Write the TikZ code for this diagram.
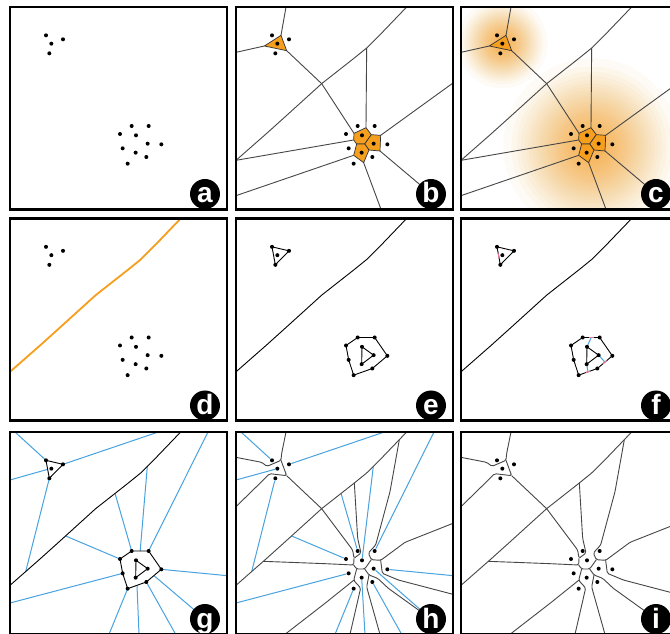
\documentclass[tikz,border=0pt]{standalone}
\usepackage{fontspec}
\setsansfont{Liberation Sans}
\definecolor{orgC}{RGB}{246,158,30}
\definecolor{bluC}{RGB}{72,163,224}
\definecolor{pnkC}{RGB}{240,120,150}
\definecolor{vgray}{RGB}{70,70,70}
\tikzset{
 frm/.style={line width=2.7pt, black},
 vor/.style={line width=0.9pt, vgray, line join=round},
 vfine/.style={line width=0.9pt, vgray, line join=round, line cap=round, rounded corners=1.5pt},
 hul/.style={line width=0.9pt, black, line join=round},
 blu/.style={line width=1pt, bluC},
 pnk/.style={line width=1.1pt, pnkC},
 cell/.style={fill=orgC, draw=black!80, line width=0.7pt, line join=round},
 dotc/.style={fill=black},
 glow/.style={fill=orgC, fill opacity=0.045},
 lab/.style={text=white, font=\sffamily\bfseries\fontsize{28}{28}\selectfont, anchor=base, inner sep=0pt},
}
\newcommand\mypts{%
\coordinate (P1) at (141,106);\coordinate (P2) at (157,131);\coordinate (P3) at (192,118);\coordinate (P4) at (151,160);
\coordinate (A) at (398,378);\coordinate (B) at (449,378);\coordinate (C) at (363,402);\coordinate (D) at (411,406);
\coordinate (E) at (446,431);\coordinate (F) at (487,433);\coordinate (G) at (371,445);\coordinate (H) at (410,458);
\coordinate (I) at (442,471);\coordinate (J) at (386,491);
\coordinate (K1) at (33,481);\coordinate (K2) at (123,402);\coordinate (K3) at (183,348);\coordinate (K4) at (290,251);
\coordinate (K5) at (388,174);\coordinate (K6) at (425,144);\coordinate (K7) at (473,96);\coordinate (K8) at (545,21);
\coordinate (T1) at (118,138);\coordinate (T2) at (168,106);\coordinate (T3) at (185,152);
\coordinate (T1a) at (126,124);\coordinate (T1b) at (134,146);
\coordinate (V1) at (423,383);\coordinate (V2) at (387,400);\coordinate (V3) at (439,404);\coordinate (V4) at (467,406);
\coordinate (V5) at (386,420);\coordinate (V6) at (395,432);\coordinate (V7) at (419,432);\coordinate (V8) at (432,450);
\coordinate (V9) at (465,453);\coordinate (V10) at (386,466);\coordinate (V11) at (416,488);
\coordinate (V1a) at (408,384);\coordinate (V1b) at (430,384);\coordinate (V9a) at (472,445);\coordinate (V9b) at (458,460);
\coordinate (V11a) at (407,489);\coordinate (V11b) at (425,486);
}
\newcommand\mydots{\foreach \q in {P1,P2,P3,P4,A,B,C,D,E,F,G,H,I,J}{\fill[dotc] (\q) circle (6);}}
\newcommand\mylab[2]{\fill[black] (618,582) circle (45); \node[lab] (#1) at (618,609) {#2};}
\newcommand\mycurve[1]{\draw[#1] (K1) -- (K2) -- (K3) -- (K4) -- (K5) -- (K6) -- (K7) -- (K8);}
\newcommand\myframe{\draw[frm] (33,21) rectangle (684,628);}
\newcommand\myclip{\clip (33,21) rectangle (684,628);}
\newcommand\myvorb{%
 \mycurve{vor}
 \draw[vor] (V1) -- (K6);
 \draw[vor] (V4) -- (684,249);
 \draw[vor] (V9) -- (618,582);
 \draw[vor] (V11) -- (468,628);
 \draw[vor] (V10) -- (33,587);
 \draw[vor] (V5) -- (K1);
 \draw[vor] (V2) -- (K4) -- (T3);
 \draw[vor] (T2) -- (183,21);
 \draw[vor] (T1) -- (33,157);
 \filldraw[cell] (T1) -- (T2) -- (T3) -- cycle;
 \filldraw[cell] (V1) -- (V3) -- (V7) -- (V6) -- (V5) -- (V2) -- cycle;
 \filldraw[cell] (V3) -- (V4) -- (V9) -- (V8) -- (V7) -- cycle;
 \filldraw[cell] (V6) -- (V7) -- (V8) -- (V11) -- (V10) -- cycle;
}
\newcommand\myhulls{%
 \draw[hul] (P1) -- (P3) -- (P4) -- cycle;
 \draw[hul] (A) -- (B) -- (F) -- (I) -- (J) -- (G) -- (C) -- cycle;
 \draw[hul] (D) -- (E) -- (H) -- cycle;
}
\newcommand\myvorfine{%
 \mycurve{vfine}
 \draw[vfine] (183,21) -- (170,85) -- (T2) -- (T1a) -- (110,112) -- (33,97);
 \draw[vfine] (T2) -- (T3) -- (T1b) -- (120,160) -- (33,245);
 \draw[vfine] (T3) -- (K4) -- (383,375) -- (V2) -- (V1a) -- (398,340) -- (K5);
 \draw[vfine] (523,44) -- (495,200) -- (452,360) -- (V1b) -- (V3) -- (V4) -- (540,352) -- (684,295);
 \draw[vfine] (V2) -- (V5) -- (300,416) -- (115,409);
 \draw[vfine] (V5) -- (V6) -- (V7) -- (V3);
 \draw[vfine] (V7) -- (V8) -- (V9b) -- (490,490) -- (618,582);
 \draw[vfine] (V4) -- (V9a) -- (520,465) -- (684,508);
 \draw[vfine] (V8) -- (V11b) -- (465,628);
 \draw[vfine] (V6) -- (V10) -- (V11a) -- (375,628);
 \draw[vfine] (V10) -- (300,535) -- (180,628);
}
\begin{document}
\begin{tikzpicture}[x=1pt,y=-1pt]
\useasboundingbox (0,0) rectangle (670,634);
\fill[white] (0,0) rectangle (670,634);
% a
\begin{scope}[shift={(-1,0)}, scale=0.33333]
 \mypts
 \begin{scope}\myclip \mydots \mylab{la}{a}\end{scope}
 \myframe
\end{scope}
% b
\begin{scope}[shift={(225,0)}, scale=0.33333]
 \mypts
 \begin{scope}\myclip \myvorb \mydots \mylab{lb}{b}\end{scope}
 \myframe
\end{scope}
% c
\begin{scope}[shift={(450,0)}, scale=0.33333]
 \mypts
 \begin{scope}\myclip
  \foreach \k in {0,...,29}{\fill[glow] (157,130) circle ({135*(1-(\k/30)^0.7)});}
  \foreach \k in {0,...,29}{\fill[glow] (425,440) circle ({265*(1-(\k/30)^0.7)});}
  \myvorb \mydots \mylab{lc}{c}\end{scope}
 \myframe
\end{scope}
% d
\begin{scope}[shift={(-1,211.5)}, scale=0.33333]
 \mypts
 \begin{scope}\myclip \mycurve{line width=1.8pt, orgC, line join=round} \mydots \mylab{ld}{d}\end{scope}
 \myframe
\end{scope}
% e
\begin{scope}[shift={(225,211.5)}, scale=0.33333]
 \mypts
 \begin{scope}\myclip \mycurve{hul} \myhulls \mydots \mylab{le}{e}\end{scope}
 \myframe
\end{scope}
% f
\begin{scope}[shift={(450,211.5)}, scale=0.33333]
 \mypts
 \begin{scope}\myclip \mycurve{hul} \myhulls
  \draw[blu] (D) -- (423.5,378);
  \draw[blu] (E) -- (465,452);
  \draw[blu] (H) -- (414,481);
  \draw[pnk] (416,378) -- (431,378);
  \draw[pnk] (470.3,447.5) -- (459.7,456.5);
  \draw[pnk] (420.6,478.6) -- (407.4,483.4);
  \draw[pnk] (144.7,126.1) -- (147.3,139.9);
  \mydots \mylab{lf}{f}\end{scope}
 \myframe
\end{scope}
% g
\begin{scope}[shift={(-1,425)}, scale=0.33333]
 \mypts
 \begin{scope}\myclip
  \draw[blu] (48,21) -- (P1);
  \draw[blu] (33,165) -- (146,133);
  \draw[blu] (478,21) -- (P3);
  \draw[blu] (80,440) -- (P4);
  \draw[blu] (348,205) -- (A);
  \draw[blu] (445,124) -- (423.5,378);
  \draw[blu] (627,21) -- (B);
  \draw[blu] (200,333) -- (C);
  \draw[blu] (F) -- (684,452);
  \draw[blu] (G) -- (33,534);
  \draw[blu] (J) -- (330,628);
  \draw[blu] (414,481) -- (420,628);
  \draw[blu] (I) -- (530,628);
  \draw[blu] (465,452) -- (618,582);
  \mycurve{hul} \myhulls \mydots \mylab{lg}{g}\end{scope}
 \myframe
\end{scope}
% h
\begin{scope}[shift={(225,425)}, scale=0.33333]
 \mypts
 \begin{scope}\myclip
  \draw[blu, shorten >=2.5pt] (48,21) -- (P1);
  \draw[blu, shorten >=2.5pt] (33,165) -- (P2);
  \draw[blu, shorten >=2.5pt] (478,21) -- (P3);
  \draw[blu, shorten >=2.5pt] (80,440) -- (P4);
  \draw[blu, shorten >=2.5pt] (348,205) -- (A);
  \draw[blu, shorten >=2.5pt] (445,124) -- (D);
  \draw[blu, shorten >=2.5pt] (627,21) -- (B);
  \draw[blu, shorten >=2.5pt] (200,333) -- (C);
  \draw[blu, shorten >=2.5pt] (684,452) -- (F);
  \draw[blu, shorten >=2.5pt] (33,534) -- (G);
  \draw[blu, shorten >=2.5pt] (330,628) -- (J);
  \draw[blu, shorten >=2.5pt] (420,628) -- (H);
  \draw[blu, shorten >=2.5pt] (530,628) -- (I);
  \draw[blu, shorten >=2.5pt] (618,582) -- (E);
  \myvorfine \mydots \mylab{lh}{h}\end{scope}
 \myframe
\end{scope}
% i
\begin{scope}[shift={(450,425)}, scale=0.33333]
 \mypts
 \begin{scope}\myclip \myvorfine \mydots \mylab{li}{i}\end{scope}
 \myframe
\end{scope}
\end{tikzpicture}
\end{document}
